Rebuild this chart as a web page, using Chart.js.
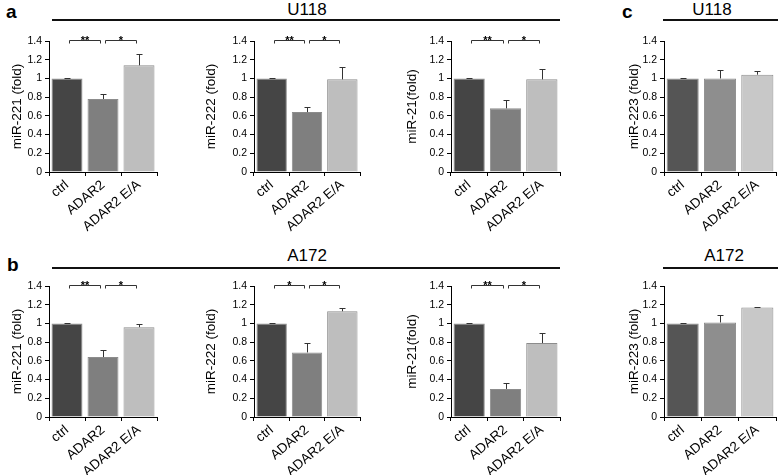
<!DOCTYPE html>
<html><head><meta charset="utf-8">
<script src="https://cdn.jsdelivr.net/npm/chart.js@4.4.0/dist/chart.umd.min.js"></script>
<style>
body{margin:0;width:778px;height:475px;background:#fff;position:relative;overflow:hidden;font-family:"Liberation Sans",Arial,Helvetica,sans-serif;color:#000;}
.box{position:absolute}
.lbl{position:absolute;font-weight:bold;font-size:19px;line-height:19px;}
.ttl{position:absolute;font-size:17px;line-height:17px;text-align:center;width:100px;}
.rule{position:absolute;height:2px;background:#111;}
</style></head><body>
<div class="lbl" style="left:6px;top:2px">a</div>
<div class="lbl" style="left:7px;top:255px">b</div>
<div class="lbl" style="left:622px;top:2px">c</div>
<div class="ttl" style="left:257px;top:1px">U118</div>
<div class="ttl" style="left:662px;top:1px">U118</div>
<div class="ttl" style="left:257px;top:247px">A172</div>
<div class="ttl" style="left:674px;top:247px">A172</div>
<div class="rule" style="left:52px;top:19px;width:508px"></div>
<div class="rule" style="left:663px;top:19px;width:115px"></div>
<div class="rule" style="left:52px;top:267px;width:508px"></div>
<div class="rule" style="left:663px;top:267px;width:115px"></div>
<script>
// ---- data ----
const categories = ['ctrl', 'ADAR2', 'ADAR2 E/A'];
const yTickLabels = ['0', '0.2', '0.4', '0.6', '0.8', '1', '1.2', '1.4'];

const u118_miR221 = [1.00, 0.78, 1.14];
const u118_miR221_err = [0.00, 0.05, 0.12];
const u118_miR222 = [1.00, 0.64, 0.99];
const u118_miR222_err = [0.00, 0.05, 0.13];
const u118_miR21 = [1.00, 0.68, 0.99];
const u118_miR21_err = [0.00, 0.09, 0.11];
const u118_miR223 = [1.00, 1.00, 1.04];
const u118_miR223_err = [0.00, 0.09, 0.04];

const a172_miR221 = [1.00, 0.64, 0.96];
const a172_miR221_err = [0.00, 0.08, 0.03];
const a172_miR222 = [1.00, 0.69, 1.13];
const a172_miR222_err = [0.00, 0.10, 0.04];
const a172_miR21 = [1.00, 0.30, 0.79];
const a172_miR21_err = [0.00, 0.06, 0.11];
const a172_miR223 = [1.00, 1.01, 1.17];
const a172_miR223_err = [0.00, 0.08, 0.01];

const sig_u118_miR221 = ['**', '*'];
const sig_u118_miR222 = ['**', '*'];
const sig_u118_miR21 = ['**', '*'];
const sig_a172_miR221 = ['**', '*'];
const sig_a172_miR222 = ['*', '*'];
const sig_a172_miR21 = ['**', '*'];

// ---- styles / layout ----
const FONT = '"Liberation Sans", Arial, Helvetica, sans-serif';
const colorsAB = ['#454545', '#7f7f7f', '#bebebe'];
const colorsC = ['#555555', '#8e8e8e', '#c8c8c8'];
const rowA = {top: 41, bottom: 172};
const rowB = {top: 286, bottom: 417};
const cols = [
  {axisX: 49, right: 157, titleX: 17},
  {axisX: 254, right: 360, titleX: 211},
  {axisX: 451, right: 560, titleX: 412},
  {axisX: 664, right: 776, titleX: 634}
];

const panels = [
  {row: rowA, col: 0, title: 'miR-221 (fold)', values: u118_miR221, errs: u118_miR221_err, sig: sig_u118_miR221, colors: colorsAB},
  {row: rowA, col: 1, title: 'miR-222 (fold)', values: u118_miR222, errs: u118_miR222_err, sig: sig_u118_miR222, colors: colorsAB},
  {row: rowA, col: 2, title: 'miR-21(fold)', values: u118_miR21, errs: u118_miR21_err, sig: sig_u118_miR21, colors: colorsAB},
  {row: rowA, col: 3, title: 'miR-223 (fold)', values: u118_miR223, errs: u118_miR223_err, sig: [], colors: colorsC},
  {row: rowB, col: 0, title: 'miR-221 (fold)', values: a172_miR221, errs: a172_miR221_err, sig: sig_a172_miR221, colors: colorsAB},
  {row: rowB, col: 1, title: 'miR-222 (fold)', values: a172_miR222, errs: a172_miR222_err, sig: sig_a172_miR222, colors: colorsAB},
  {row: rowB, col: 2, title: 'miR-21(fold)', values: a172_miR21, errs: a172_miR21_err, sig: sig_a172_miR21, colors: colorsAB},
  {row: rowB, col: 3, title: 'miR-223 (fold)', values: a172_miR223, errs: a172_miR223_err, sig: [], colors: colorsC}
];

const errPlugin = {
  id: 'errBars',
  afterDatasetsDraw(chart, args, opts) {
    const ctx = chart.ctx, y = chart.scales.y;
    const meta = chart.getDatasetMeta(0);
    const ds = chart.data.datasets[0];
    const errs = opts.errs || [];
    ctx.save();
    ctx.strokeStyle = '#333';
    ctx.lineWidth = 1;
    meta.data.forEach((bar, i) => {
      const v = ds.data[i], e = errs[i] || 0;
      const x = Math.round(bar.x) + 0.5;
      const y0 = y.getPixelForValue(v);
      const y1 = Math.round(y.getPixelForValue(v + e)) + 0.5;
      ctx.beginPath();
      ctx.moveTo(x, y0); ctx.lineTo(x, y1);
      ctx.moveTo(x - 3, y1); ctx.lineTo(x + 3, y1);
      ctx.stroke();
    });
    ctx.restore();
  }
};

const sigPlugin = {
  id: 'sig',
  afterDraw(chart, args, opts) {
    const marks = opts.marks || [];
    const ctx = chart.ctx, x = chart.scales.x, y = chart.scales.y;
    const yb = Math.round(y.getPixelForValue(1.4)) - 0.5;
    ctx.save();
    ctx.strokeStyle = '#333';
    ctx.fillStyle = '#000';
    ctx.lineWidth = 1;
    ctx.font = 'bold 11px ' + FONT;
    ctx.textAlign = 'center';
    ctx.textBaseline = 'alphabetic';
    marks.forEach((m, k) => {
      const x0 = Math.round(x.getPixelForValue(k)) + 2.5;
      const x1 = Math.round(x.getPixelForValue(k + 1)) - 2.5;
      ctx.beginPath();
      ctx.moveTo(x0, yb + 3); ctx.lineTo(x0, yb); ctx.lineTo(x1, yb); ctx.lineTo(x1, yb + 3);
      ctx.stroke();
      ctx.fillText(m, (x0 + x1) / 2, yb + 3);
    });
    ctx.restore();
  }
};

const PAD_TOP = 20, XH = 75, TITLE_SIZE = 13.5;
panels.forEach(p => {
  const c = cols[p.col];
  const left = Math.round(c.titleX - TITLE_SIZE * 1.2 / 2);
  const W = c.axisX - left;
  const width = c.right - left + 3;
  const top = p.row.top - PAD_TOP;
  const height = PAD_TOP + (p.row.bottom - p.row.top) + XH;
  const box = document.createElement('div');
  box.className = 'box';
  box.style.left = left + 'px'; box.style.top = top + 'px';
  box.style.width = width + 'px'; box.style.height = height + 'px';
  const cv = document.createElement('canvas');
  cv.width = width; cv.height = height;
  cv.style.width = width + 'px'; cv.style.height = height + 'px';
  box.appendChild(cv);
  document.body.appendChild(box);
  new Chart(cv, {
    type: 'bar',
    data: {
      labels: categories,
      datasets: [{
        data: p.values,
        backgroundColor: p.colors,
        borderColor: 'rgba(0,0,0,0.45)',
        borderWidth: 1,
        barPercentage: 0.86,
        categoryPercentage: 1
      }]
    },
    options: {
      responsive: false,
      animation: false,
      devicePixelRatio: 1,
      layout: {padding: {top: PAD_TOP, right: 3, left: 0, bottom: 0}},
      plugins: {
        legend: {display: false},
        tooltip: {enabled: false},
        errBars: {errs: p.errs},
        sig: {marks: p.sig}
      },
      scales: {
        x: {
          grid: {display: true, drawOnChartArea: false, drawTicks: true, tickLength: 4, color: '#000', offset: true},
          border: {color: '#000', width: 1},
          ticks: {color: '#000', font: {size: 13.5, family: FONT}, maxRotation: 40, minRotation: 40, padding: 1, autoSkip: false},
          afterFit(s) { s.height = XH; }
        },
        y: {
          min: 0, max: 1.4,
          ticks: {stepSize: 0.2, color: '#000', font: {size: 10.5, family: FONT}, padding: 3,
                  callback: (v, i) => yTickLabels[i]},
          grid: {display: true, drawOnChartArea: false, drawTicks: true, tickLength: 4, color: '#000'},
          border: {color: '#000', width: 1},
          title: {display: true, text: p.title, color: '#000', font: {size: TITLE_SIZE, family: FONT}, padding: {top: 0, bottom: 0}},
          afterFit(s) { s.width = W; }
        }
      }
    },
    plugins: [errPlugin, sigPlugin]
  });
});
</script>
</body></html>
